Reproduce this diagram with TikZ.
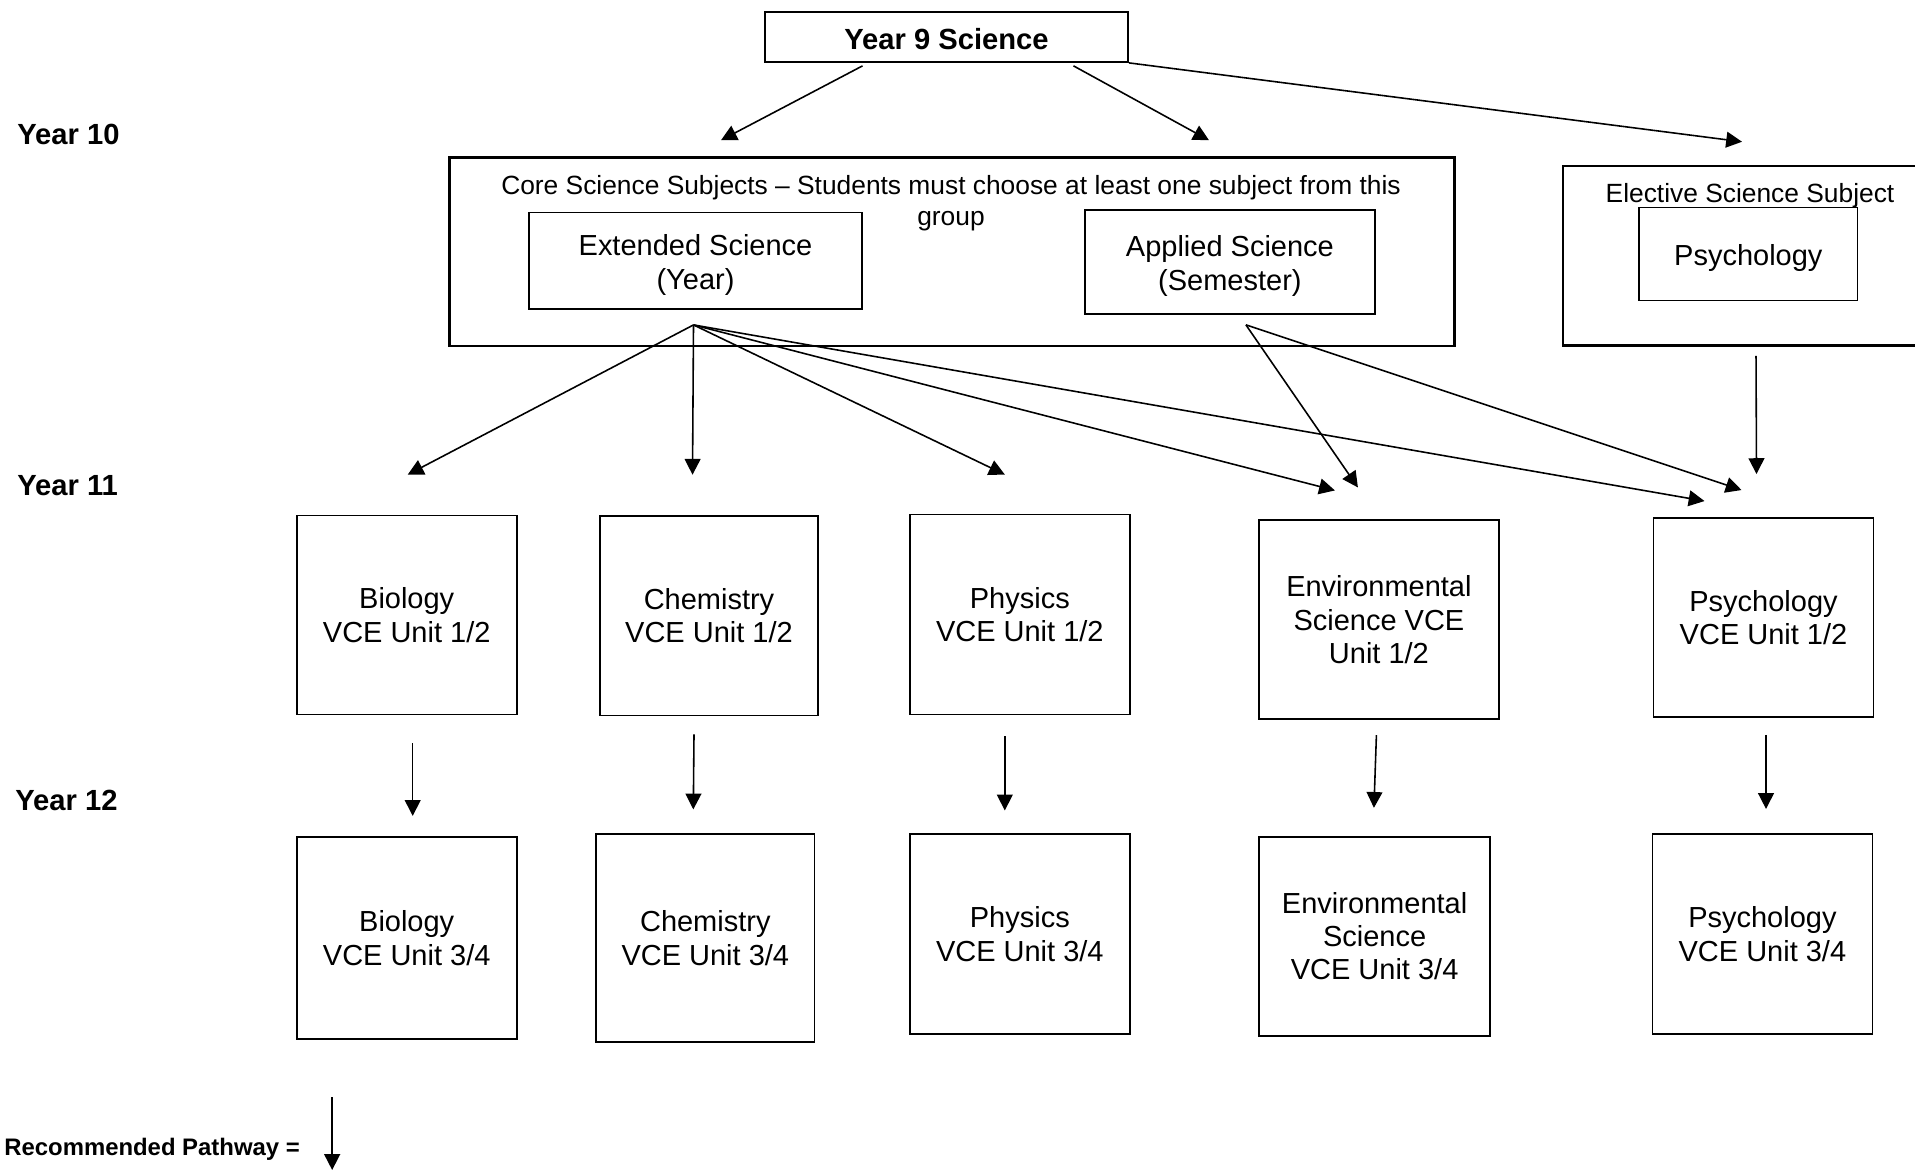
\documentclass[tikz,border=0pt]{standalone}
\usepackage{fontspec}
\setmainfont{Liberation Sans}
\usetikzlibrary{arrows.meta,positioning,calc}

\begin{document}
\begin{tikzpicture}[x=0.02cm,y=-0.02cm,
  box/.style={draw,line width=1pt,align=center,inner sep=0pt,font=\fontsize{16.5}{19}\selectfont},
  groupbox/.style={draw,line width=1.5pt},
  unitbox/.style={box,minimum width=4.4cm,minimum height=4cm},
  yearlabel/.style={anchor=west,inner sep=0pt,font=\fontsize{16.6}{19}\selectfont\bfseries},
  route/.style={line width=0.9pt,-{Triangle[length=9pt,width=9pt]}}]
\useasboundingbox (0,0) rectangle (1915,1173);
\clip (0,0) rectangle (1915,1173);

% Year labels
\node[yearlabel] (yr10) at (17,134) {Year 10};
\node[yearlabel] (yr11) at (17,486) {Year 11};
\node[yearlabel] (yr12) at (15,800) {Year 12};

% Year 9
\node[box,font=\fontsize{16.6}{19}\selectfont\bfseries,minimum width=7.26cm,minimum height=1cm] (y9) at (946.5,37) {\rule{0pt}{14.8pt}Year 9 Science};

% Year 10 core group
\node[groupbox,minimum width=20.1cm,minimum height=3.77cm] (core) at (952,251.8) {};
\node[anchor=north,inner sep=0pt,align=center,font=\fontsize{15}{17.9}\selectfont] (coretitle) at (951,175)
  {Core Science Subjects – Students must choose at least one subject from this\\group};
\node[box,font=\fontsize{16.5}{19.6}\selectfont,minimum width=6.67cm,minimum height=1.93cm] (ext) at (695.5,260.8) {\rule{0pt}{16.8pt}Extended Science\\(Year)};
\node[box,font=\fontsize{16.5}{19.6}\selectfont,minimum width=5.81cm,minimum height=2.08cm] (app) at (1229.9,262) {\rule{0pt}{16.8pt}Applied Science\\(Semester)};

% Year 10 elective
\node[groupbox,minimum width=7.44cm,minimum height=3.59cm] (elect) at (1749,255.8) {};
\node[anchor=base,inner sep=0pt,font=\fontsize{15}{18}\selectfont] (electtitle) at (1750,202.5) {Elective Science Subject};
\node[box,minimum width=4.37cm,minimum height=1.86cm] (psy) at (1748.3,254) {\rule{0pt}{16.2pt}Psychology};

% Year 11
\node[unitbox,minimum height=3.98cm] (bio1) at (406.7,615) {Biology\\VCE Unit 1/2};
\node[unitbox,minimum width=4.37cm] (chem1) at (709,615.6) {Chemistry\\VCE Unit 1/2};
\node[unitbox] (phys1) at (1019.8,614.4) {Physics\\VCE Unit 1/2};
\node[unitbox,minimum width=4.79cm,minimum height=3.98cm] (env1) at (1378.9,619.8) {Environmental\\Science VCE\\Unit 1/2};
\node[unitbox,minimum height=3.98cm] (psy1) at (1763.5,617.4) {Psychology\\VCE Unit 1/2};

% Year 12
\node[unitbox,minimum height=4.05cm] (bio2) at (406.7,938) {Biology\\VCE Unit 3/4};
\node[unitbox,minimum width=4.37cm,minimum height=4.15cm] (chem2) at (705.3,938) {Chemistry\\VCE Unit 3/4};
\node[unitbox] (phys2) at (1019.8,934.3) {Physics\\VCE Unit 3/4};
\node[unitbox,minimum width=4.62cm,minimum height=3.98cm] (env2) at (1374.6,936.2) {Environmental\\Science\\VCE Unit 3/4};
\node[unitbox] (psy2) at (1762.4,934.3) {Psychology\\VCE Unit 3/4};

% Legend
\node[anchor=west,inner sep=0pt,font=\fontsize{13.6}{16}\selectfont\bfseries] (legend) at (4,1149) {Recommended Pathway =};

% Arrows from Year 9
\draw[route] ($(y9.south)+(-84,3)$) -- ($(core.north)+(-231,-16)$);
\draw[route] ($(y9.south)+(127,3)$) -- ($(core.north)+(257,-16)$);
\draw[route] (y9.south east) -- ($(elect.north)+(-7,-23)$);

% Arrows into Year 11
\coordinate (extout) at ($(ext.south)+(-2,15)$);
\coordinate (appout) at ($(app.south)+(16,10)$);
\coordinate (elecout) at ($(elect.south)+(7,9)$);
\draw[route] (extout) -- ($(bio1.north)+(1,-40)$);
\draw[route] (extout) -- ($(chem1.north)+(-16.5,-40)$);
\draw[route] (extout) -- ($(phys1.north)+(-15,-39)$);
\draw[route] (extout) -- ($(env1.north)+(-44,-29)$);
\draw[route] (extout) -- ($(psy1.north)+(-59,-16)$);
\draw[route] (appout) -- ($(env1.north)+(-21,-32)$);
\draw[route] (appout) -- ($(psy1.north)+(-22,-27)$);
\draw[route] (elecout) -- ($(psy1.north)+(-7,-43)$);

% Arrows into Year 12
\draw[route] ($(bio1.south)+(6,28)$) -- ($(bio2.north)+(6,-20)$);
\draw[route] ($(chem1.south)+(-15,18)$) -- ($(chem2.north)+(-12,-24)$);
\draw[route] ($(phys1.south)+(-15,21)$) -- ($(phys2.north)+(-15,-23)$);
\draw[route] ($(env1.south)+(-2.5,15)$) -- ($(env2.north)+(-0.7,-28)$);
\draw[route] ($(psy1.south)+(2.5,17)$) -- ($(psy2.north)+(3.6,-24.5)$);

% Legend arrow
\draw[route] ($(legend.east)+(32,-52)$) -- ($(legend.east)+(32,21)$);
\end{tikzpicture}
\end{document}
